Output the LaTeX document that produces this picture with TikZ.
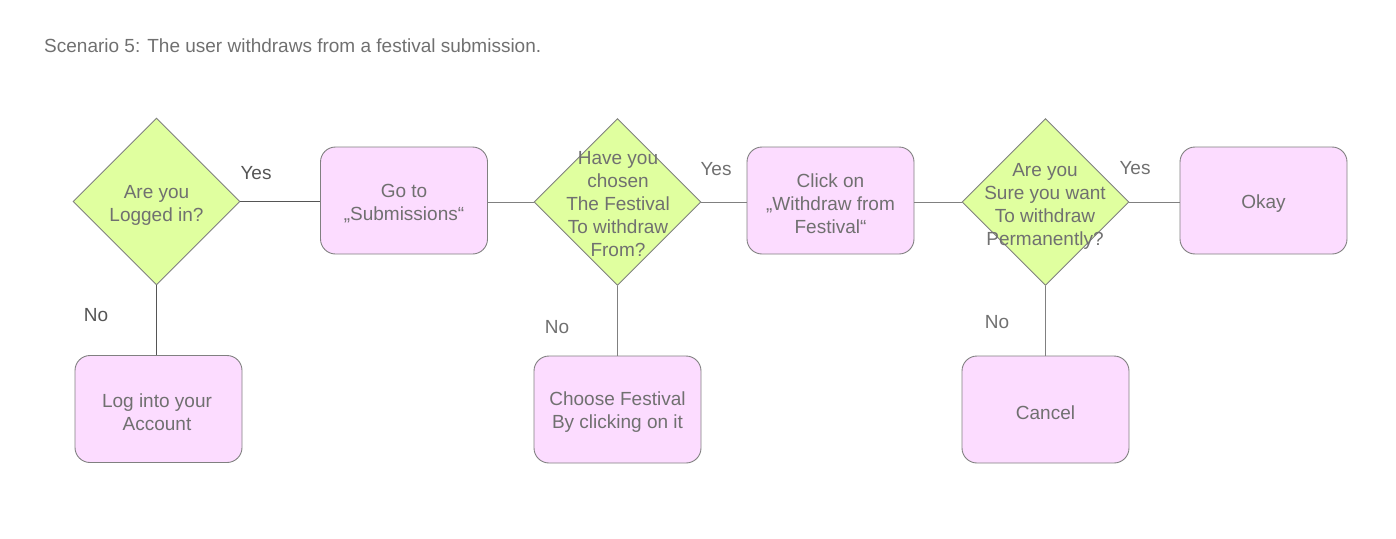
\documentclass[tikz,border=0pt]{standalone}
\usepackage{fontspec}
\setmainfont{Liberation Sans}
\usetikzlibrary{shapes.geometric}
\definecolor{txt}{HTML}{707070}
\definecolor{txtdark}{HTML}{555555}
\definecolor{lime}{HTML}{E0FF9F}
\definecolor{pinkbox}{HTML}{FCDCFF}
\definecolor{edge}{HTML}{808080}
\tikzset{
  dec/.style={draw=edge, line width=0.9pt, fill=lime, shape=diamond, inner sep=0pt, minimum width=167pt, minimum height=167pt},
  act/.style={draw=edge, line width=0.9pt, fill=pinkbox, rounded corners=15pt, minimum width=167pt, minimum height=107pt, inner sep=0pt},
  lbl/.style={text=txt, font=\fontsize{19}{23}\selectfont, align=center, inner sep=0pt},
  conn/.style={draw=edge, line width=0.9pt},
  conndark/.style={draw=txtdark, line width=1.3pt},
  ans/.style={text=txt, font=\fontsize{19}{22}\selectfont, inner sep=0pt},
  ansdark/.style={text=txtdark, font=\fontsize{19}{22}\selectfont, inner sep=0pt}
}
\begin{document}
\begin{tikzpicture}[x=1pt,y=-1pt]
\useasboundingbox (0,0) rectangle (1396,538);
\node[text=txt, font=\fontsize{19}{22}\selectfont, anchor=west, inner sep=0pt] (title) at (44,46) {Scenario 5: The user withdraws from a festival submission.};
% diamonds
\node[dec] (d1) at (156.5,201.5) {};
\node[lbl] (t1) at (156.5,205) {Are you\\Logged in?};
\node[dec] (d2) at (617.5,202) {};
\node[lbl] (t2) at (618,204.5) {Have you\\chosen\\The Festival\\To withdraw\\From?};
\node[dec] (d3) at (1045.5,202) {};
\node[lbl] (t3) at (1045,206) {Are you\\Sure you want\\To withdraw\\Permanently?};
% boxes
\node[act] (b1) at (404,200.5) {};
\node[lbl] (tb1) at (404,204) {Go to\\„Submissions“};
\node[act] (b2) at (830.5,200.5) {};
\node[lbl] (tb2) at (830.5,204) {Click on\\„Withdraw from\\Festival“};
\node[act] (b3) at (1263.5,200.5) {};
\node[lbl] (tb3) at (1263.5,204) {Okay};
\node[act] (b4) at (158.5,409) {};
\node[lbl] (tb4) at (157,412) {Log into your\\Account};
\node[act] (b5) at (617.5,409.5) {};
\node[lbl] (tb5) at (617.5,412.5) {Choose Festival\\By clicking on it};
\node[act] (b6) at (1045.5,409.5) {};
\node[lbl] (tb6) at (1045.5,412.5) {Cancel};
% connectors
\draw[conndark] (d1.east) -- (b1.west |- d1.east);
\draw[conndark] (d1.south) -- (d1.south |- b4.north);
\draw[conn] (b1.east |- d2.west) -- (d2.west);
\draw[conn] (d2.east) -- (b2.west |- d2.east);
\draw[conn] (b2.east |- d3.west) -- (d3.west);
\draw[conn] (d3.east) -- (b3.west |- d3.east);
\draw[conn] (d2.south) -- (b5.north);
\draw[conn] (d3.south) -- (b6.north);
% answers
\node[ansdark] (y1) at (256,173) {Yes};
\node[ansdark] (n1) at (96,315) {No};
\node[ans] (y2) at (716,169) {Yes};
\node[ans] (n2) at (557,327) {No};
\node[ans] (y3) at (1135,168) {Yes};
\node[ans] (n3) at (997,322) {No};
\end{tikzpicture}
\end{document}
